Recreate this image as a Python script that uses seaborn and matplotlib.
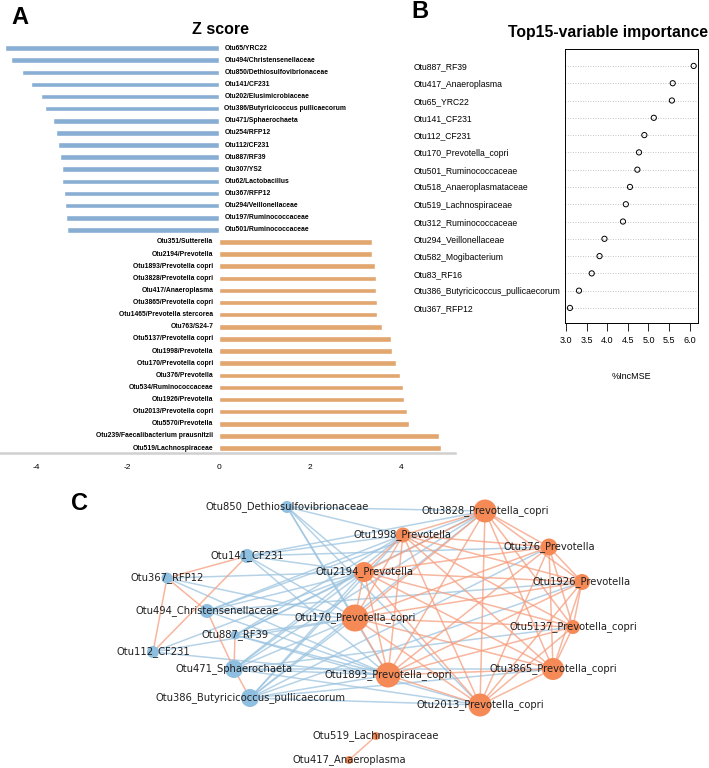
import numpy as np
import pandas as pd
import matplotlib
matplotlib.use('Agg')
import matplotlib.pyplot as plt
import seaborn as sns
from matplotlib.collections import LineCollection

sns.set_style('white')
plt.rcParams['font.family'] = ['Liberation Sans', 'DejaVu Sans']
plt.rcParams['text.color'] = 'black'
plt.rcParams['xtick.color'] = 'black'
plt.rcParams['ytick.color'] = 'black'
plt.rcParams['axes.labelcolor'] = 'black'

# ---- panel A: Z score ----
neg_otus = ['Otu65/YRC22', 'Otu494/Christensenellaceae', 'Otu850/Dethiosulfovibrionaceae',
            'Otu141/CF231', 'Otu202/Elusimicrobiaceae', 'Otu386/Butyricicoccus pullicaecorum',
            'Otu471/Sphaerochaeta', 'Otu254/RFP12', 'Otu112/CF231', 'Otu887/RF39',
            'Otu307/YS2', 'Otu62/Lactobacillus', 'Otu367/RFP12', 'Otu294/Veillonellaceae',
            'Otu197/Ruminococcaceae', 'Otu501/Ruminococcaceae']
neg_z = [-4.69, -4.56, -4.32, -4.12, -3.89, -3.81, -3.63, -3.57, -3.52, -3.49,
         -3.44, -3.44, -3.39, -3.38, -3.35, -3.32]
pos_otus = ['Otu351/Sutterella', 'Otu2194/Prevotella', 'Otu1893/Prevotella copri',
            'Otu3828/Prevotella copri', 'Otu417/Anaeroplasma', 'Otu3865/Prevotella copri',
            'Otu1465/Prevotella stercorea', 'Otu763/S24-7', 'Otu5137/Prevotella copri',
            'Otu1998/Prevotella', 'Otu170/Prevotella copri', 'Otu376/Prevotella',
            'Otu534/Ruminococcaceae', 'Otu1926/Prevotella', 'Otu2013/Prevotella copri',
            'Otu5570/Prevotella', 'Otu239/Faecalibacterium prausnitzii', 'Otu519/Lachnospiraceae']
pos_z = [3.36, 3.36, 3.43, 3.44, 3.45, 3.47, 3.48, 3.58, 3.77, 3.80,
         3.89, 3.98, 4.04, 4.07, 4.12, 4.18, 4.84, 4.88]
z_ticks = [-4, -2, 0, 2, 4]

# ---- panel B: variable importance ----
imp_names = ['Otu887_RF39', 'Otu417_Anaeroplasma', 'Otu65_YRC22', 'Otu141_CF231',
             'Otu112_CF231', 'Otu170_Prevotella_copri', 'Otu501_Ruminococcaceae',
             'Otu518_Anaeroplasmataceae', 'Otu519_Lachnospiraceae', 'Otu312_Ruminococcaceae',
             'Otu294_Veillonellaceae', 'Otu582_Mogibacterium', 'Otu83_RF16',
             'Otu386_Butyricicoccus_pullicaecorum', 'Otu367_RFP12']
imp_vals = [6.10, 5.59, 5.57, 5.13, 4.90, 4.77, 4.73, 4.55, 4.45, 4.38,
            3.93, 3.81, 3.62, 3.31, 3.09]
imp_ticks = [3.0, 3.5, 4.0, 4.5, 5.0, 5.5, 6.0]

# ---- panel C: network (layout) ----
node_names = ['Otu850_Dethiosulfovibrionaceae', 'Otu141_CF231', 'Otu367_RFP12',
              'Otu494_Christensenellaceae', 'Otu887_RF39', 'Otu112_CF231',
              'Otu471_Sphaerochaeta', 'Otu386_Butyricicoccus_pullicaecorum',
              'Otu3828_Prevotella_copri', 'Otu1998_Prevotella', 'Otu376_Prevotella',
              'Otu2194_Prevotella', 'Otu1926_Prevotella', 'Otu170_Prevotella_copri',
              'Otu5137_Prevotella_copri', 'Otu3865_Prevotella_copri',
              'Otu1893_Prevotella_copri', 'Otu2013_Prevotella_copri',
              'Otu519_Lachnospiraceae', 'Otu417_Anaeroplasma']
node_x = [287, 247, 167, 207, 235, 153, 234, 250,
          485, 403, 549, 364, 582, 355, 573, 553, 388, 480, 376, 349]
node_y = [507, 556, 578, 611, 635, 652, 669, 698,
          511, 535, 547, 572, 582, 618, 627, 669, 675, 705, 736, 760]
node_r = [6, 7, 5.5, 7, 4.5, 6, 9, 9,
          11.5, 7.5, 8.5, 10, 8, 13.5, 7, 11, 12.5, 11.5, 4, 4]
node_group = ['neg'] * 8 + ['pos'] * 12

core_pos = ['Otu3828_Prevotella_copri', 'Otu1998_Prevotella', 'Otu376_Prevotella',
            'Otu2194_Prevotella', 'Otu1926_Prevotella', 'Otu170_Prevotella_copri',
            'Otu5137_Prevotella_copri', 'Otu3865_Prevotella_copri',
            'Otu1893_Prevotella_copri', 'Otu2013_Prevotella_copri']
pos_edges_extra = [('Otu141_CF231', 'Otu367_RFP12'), ('Otu141_CF231', 'Otu112_CF231'),
                   ('Otu367_RFP12', 'Otu112_CF231'), ('Otu367_RFP12', 'Otu494_Christensenellaceae'),
                   ('Otu494_Christensenellaceae', 'Otu471_Sphaerochaeta'),
                   ('Otu887_RF39', 'Otu471_Sphaerochaeta'),
                   ('Otu471_Sphaerochaeta', 'Otu386_Butyricicoccus_pullicaecorum'),
                   ('Otu519_Lachnospiraceae', 'Otu417_Anaeroplasma')]
neg_links = {
    'Otu850_Dethiosulfovibrionaceae': ['170', '1893', '2194', '1998', '3828', '2013'],
    'Otu141_CF231': ['170', '2194', '1998', '3828', '1893', '376'],
    'Otu367_RFP12': ['170', '2194', '1893'],
    'Otu494_Christensenellaceae': ['170', '3828', '1998', '2194', '1893', '1926'],
    'Otu887_RF39': ['170', '2194', '1998', '3828', '1893', '2013'],
    'Otu112_CF231': ['170', '1893', '2194'],
    'Otu471_Sphaerochaeta': ['170', '1893', '2194', '1998', '3828', '2013', '3865', '5137'],
    'Otu386_Butyricicoccus_pullicaecorum': ['170', '1893', '2013', '3865', '2194', '1998',
                                            '3828', '376', '1926'],
}

fig = plt.figure(figsize=(7.09, 7.68), dpi=100)
W, H = 709, 768


def box(l, t, r, b):
    return [l / W, 1 - b / H, (r - l) / W, (b - t) / H]


# panel A
bars = pd.DataFrame({
    'otu': neg_otus + pos_otus,
    'z': neg_z + pos_z,
    'group': ['neg'] * len(neg_otus) + ['pos'] * len(pos_otus),
})
axA = fig.add_axes(box(0, 42, 455, 453))
sns.barplot(data=bars, x='z', y='otu', hue='group', orient='y', dodge=False,
            palette={'neg': '#7caee0', 'pos': '#f5a55c'}, width=0.46,
            legend=False, ax=axA)
axA.set_xlim(-4.8, 5.18)
axA.set_ylim(len(bars) - 0.59, -0.5)
axA.set_yticks([])
axA.set_xticks(z_ticks)
axA.set_xticklabels([str(t) for t in z_ticks], fontsize=6)
axA.tick_params(axis='x', length=0, pad=8)
axA.set_xlabel('')
axA.set_ylabel('')
for s in ['left', 'right', 'top']:
    axA.spines[s].set_visible(False)
axA.spines['bottom'].set_color('#d0d0d0')
axA.spines['bottom'].set_linewidth(1.8)
for i, row in bars.iterrows():
    if row['group'] == 'neg':
        axA.annotate(row['otu'], (0, i), xytext=(4, 0), textcoords='offset points',
                     ha='left', va='center', fontsize=4.9, fontweight='bold')
    else:
        axA.annotate(row['otu'], (0, i), xytext=(-4, 0), textcoords='offset points',
                     ha='right', va='center', fontsize=4.9, fontweight='bold')
fig.text(220 / W, 1 - 30 / H, 'Z score', ha='center', va='center',
         fontsize=11.5, fontweight='bold')
fig.text(20 / W, 1 - 17 / H, 'A', ha='center', va='center', fontsize=17, fontweight='bold')

# panel B
imp = pd.DataFrame({'name': imp_names, 'val': imp_vals})
axB = fig.add_axes(box(565, 49, 698, 323))
sns.scatterplot(data=imp, x='val', y='name', marker='o', s=14, facecolor='none',
                edgecolor='black', linewidth=0.7, ax=axB, zorder=3)
axB.set_xlim(2.97, 6.205)
axB.set_ylim(14.87, -0.98)
axB.grid(axis='y', linestyle=(0, (1, 2)), color='#b0b0b0', linewidth=0.6)
axB.grid(axis='x', visible=False)
axB.set_xticks(imp_ticks)
axB.set_xticklabels([f'{t:.1f}' for t in imp_ticks], fontsize=6.5)
axB.set_yticks(range(len(imp_names)))
axB.set_yticklabels(imp_names, fontsize=6.2, ha='left')
axB.tick_params(axis='y', length=0, pad=109)
axB.tick_params(axis='x', bottom=True, length=6, width=0.6, direction='out', pad=3)
axB.set_xlabel('%IncMSE', fontsize=6.5, labelpad=20)
axB.set_ylabel('')
for s in axB.spines.values():
    s.set_color('black')
    s.set_linewidth(0.7)
fig.text(608 / W, 1 - 33 / H, 'Top15-variable importance', ha='center', va='center',
         fontsize=11.3, fontweight='bold')
fig.text(420 / W, 1 - 12 / H, 'B', ha='center', va='center', fontsize=17, fontweight='bold')

# panel C
nodes = pd.DataFrame({'name': node_names, 'x': node_x, 'y': node_y,
                      'r': node_r, 'group': node_group}).set_index('name')
axC = fig.add_axes(box(0, 480, 709, 768))
axC.set_xlim(0, W)
axC.set_ylim(768, 480)
axC.axis('off')


def seg(a, b):
    return [(nodes.loc[a, 'x'], nodes.loc[a, 'y']), (nodes.loc[b, 'x'], nodes.loc[b, 'y'])]


short = {n.split('_')[0][3:]: n for n in core_pos}
neg_segs = [seg(a, short[b]) for a, lst in neg_links.items() for b in lst]
pos_segs = [seg(core_pos[i], core_pos[j]) for i in range(len(core_pos))
            for j in range(i + 1, len(core_pos))]
pos_segs += [seg(a, b) for a, b in pos_edges_extra]
axC.add_collection(LineCollection(neg_segs, colors='#9cc4e0', linewidths=1.1, alpha=0.75, zorder=1))
axC.add_collection(LineCollection(pos_segs, colors='#f59e7e', linewidths=1.1, alpha=0.75, zorder=1))

sizes = (2 * nodes['r'] / 1.389) ** 2
axC.scatter(nodes['x'], nodes['y'], s=sizes,
            c=nodes['group'].map({'neg': '#8fbfe0', 'pos': '#f58a57'}),
            edgecolors='none', zorder=2)
for name, row in nodes.iterrows():
    axC.text(row['x'], row['y'], name, ha='center', va='center', fontsize=7.2,
             family='DejaVu Sans', color='#202020', zorder=3)
fig.text(80 / W, 1 - 503 / H, 'C', ha='center', va='center', fontsize=17, fontweight='bold')

fig.savefig('out.png', dpi=100)
